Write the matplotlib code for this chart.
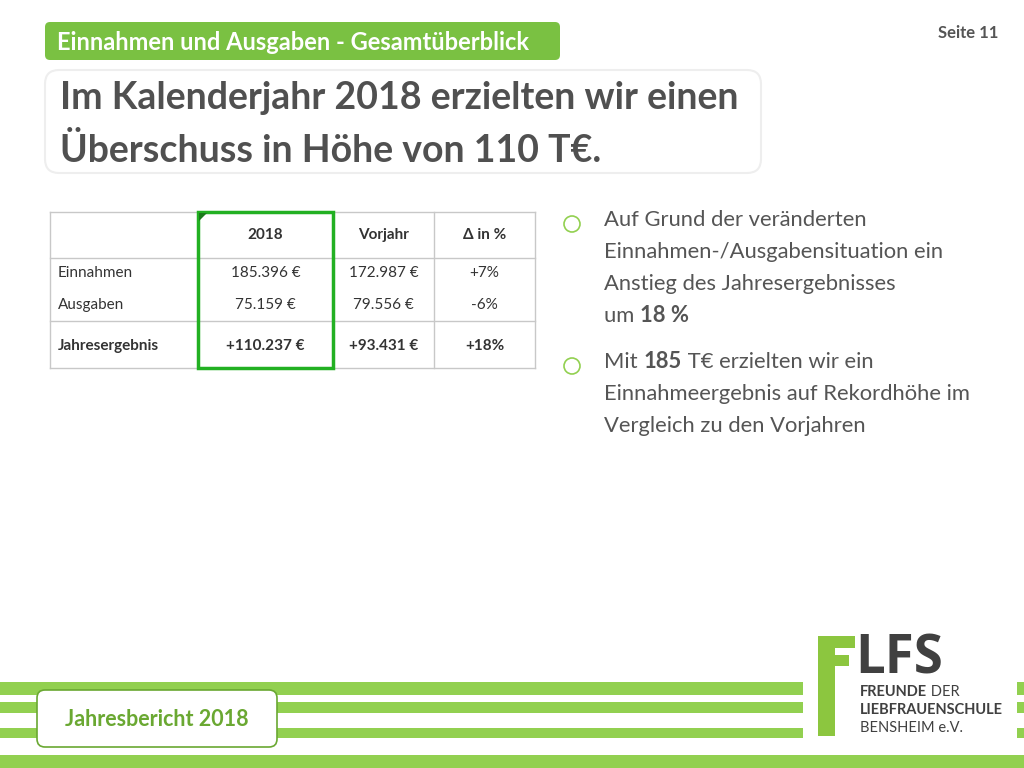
import matplotlib
matplotlib.use("Agg")
import matplotlib.pyplot as plt
from matplotlib.patches import Rectangle, FancyBboxPatch, Polygon

header = "Einnahmen und Ausgaben - Gesamtüberblick"
page = "Seite 11"
title_lines = ["Im Kalenderjahr 2018 erzielten wir einen", "Überschuss in Höhe von 110 T€."]
col_labels = ["", "2018", "Vorjahr", "Δ in %"]
row_labels = ["Einnahmen", "Ausgaben", "Jahresergebnis"]
values_2018 = ["185.396 €", "75.159 €", "+110.237 €"]
values_prev = ["172.987 €", "79.556 €", "+93.431 €"]
values_delta = ["+7%", "-6%", "+18%"]
footer = "Jahresbericht 2018"

GREEN = "#92d050"
DGREEN = "#6aa832"
FONT = "Lato"

fig = plt.figure(figsize=(10.24, 7.68), dpi=100)
ax = fig.add_axes([0, 0, 1, 1])
ax.set_xlim(0, 1024); ax.set_ylim(768, 0); ax.axis("off")
renderer = fig.canvas.get_renderer()

def runs(x, y, parts, **kw):
    """Draw consecutive text runs [(text, weight), ...] starting at data x."""
    for txt, w in parts:
        t = ax.text(x, y, txt, fontweight=w, **kw)
        bb = t.get_window_extent(renderer=renderer)
        x += bb.width * 1024 / fig.bbox.width

# header tab
ax.add_patch(FancyBboxPatch((45, 22), 515, 38, boxstyle="round,pad=0,rounding_size=5", fc="#7ac142", ec="none"))
ax.text(57, 42, header, color="white", fontsize=17, fontweight="bold", va="center", family=FONT)
ax.text(998, 33, page, color="#555555", fontsize=12, fontweight="bold", ha="right", va="center", family=FONT)

# title box
ax.add_patch(FancyBboxPatch((45, 70), 716, 103, boxstyle="round,pad=0,rounding_size=14", fc="white", ec="#eeeeee", lw=1.5))
ax.text(60, 98, title_lines[0], fontsize=27, fontweight="bold", color="#505050", va="center", family=FONT)
ax.text(60, 150, title_lines[1], fontsize=27, fontweight="bold", color="#505050", va="center", family=FONT)

# table
xs = [50, 198, 333, 434, 535]
ys = [212, 258, 321, 368]
lc = "#c8c8c8"
for y in ys:
    ax.plot([xs[0], xs[-1]], [y, y], color=lc, lw=1, zorder=1)
for x in xs:
    ax.plot([x, x], [ys[0], ys[-1]], color=lc, lw=1, zorder=1)
ax.add_patch(Rectangle((198, 212), 135, 156, fc="none", ec="#22b022", lw=2.5, zorder=3))
ax.add_patch(Polygon([(199, 213), (207, 213), (199, 221)], closed=True, fc="#1a7a1a", ec="none", zorder=4))
tc = "#333333"
for i, lab in enumerate(col_labels[1:]):
    cx = (xs[i+1] + xs[i+2]) / 2
    ax.text(cx, 235, lab, ha="center", va="center", fontsize=11, fontweight="bold", color=tc, family=FONT)
row_y = [273, 305, 346]
for j in range(3):
    bold = "bold" if j == 2 else "normal"
    ax.text(58, row_y[j], row_labels[j], va="center", fontsize=11, fontweight=bold, color=tc, family=FONT)
    for i, col in enumerate([values_2018, values_prev, values_delta]):
        cx = (xs[i+1] + xs[i+2]) / 2
        ax.text(cx, row_y[j], col[j], ha="center", va="center", fontsize=11, fontweight=bold, color=tc, family=FONT)

# bullets
bc = "#555555"
kw = dict(fontsize=15.8, color=bc, va="center", family=FONT)
def bullet(y):
    ax.add_patch(plt.Circle((572, y), 8, fc="none", ec=GREEN, lw=1.2))
bullet(224); bullet(366)
lines1 = ["Auf Grund der veränderten", "Einnahmen-/Ausgabensituation ein", "Anstieg des Jahresergebnisses"]
for k, l in enumerate(lines1):
    ax.text(604, 220 + 32*k, l, **kw)
runs(604, 316, [("um ", "normal"), ("18 %", "bold")], **kw)
runs(604, 362, [("Mit ", "normal"), ("185", "bold"), (" T€ erzielten wir ein", "normal")], **kw)
ax.text(604, 394, "Einnahmeergebnis auf Rekordhöhe im", **kw)
ax.text(604, 426, "Vergleich zu den Vorjahren", **kw)

# stripes
for y0, y1 in [(682, 695), (702, 713), (728, 738)]:
    ax.add_patch(Rectangle((0, y0), 803, y1 - y0, fc=GREEN, ec="none"))
    ax.add_patch(Rectangle((1015, y0), 9, y1 - y0, fc=GREEN, ec="none"))
ax.add_patch(Rectangle((0, 755), 1024, 13, fc=GREEN, ec="none"))

# footer box
ax.add_patch(FancyBboxPatch((37, 690), 240, 57, boxstyle="round,pad=0,rounding_size=8", fc="white", ec=DGREEN, lw=1.2))
ax.text(157, 719, footer, ha="center", va="center", fontsize=15.5, fontweight="bold", color=DGREEN, family=FONT)

# logo
ax.add_patch(Rectangle((812, 634), 205, 108, fc="white", ec="none"))
ax.add_patch(Rectangle((818, 636), 17, 100, fc="#8cc63f", ec="none"))
ax.add_patch(Rectangle((835, 636), 20, 12, fc="#8cc63f", ec="none"))
ax.add_patch(Rectangle((835, 655), 14, 11, fc="#8cc63f", ec="none"))
ax.text(855, 660, "LFS", fontsize=38, color="#404040", va="center", family="Open Sans", fontweight="bold")
lk = dict(fontsize=10.5, color="#404040", va="center", family=FONT)
runs(860, 692, [("FREUNDE", "bold"), (" DER", "normal")], **lk)
ax.text(860, 710, "LIEBFRAUENSCHULE", fontweight="bold", **lk)
ax.text(860, 728, "BENSHEIM e.V.", fontweight="normal", **lk)

fig.savefig("out.png", dpi=100)
